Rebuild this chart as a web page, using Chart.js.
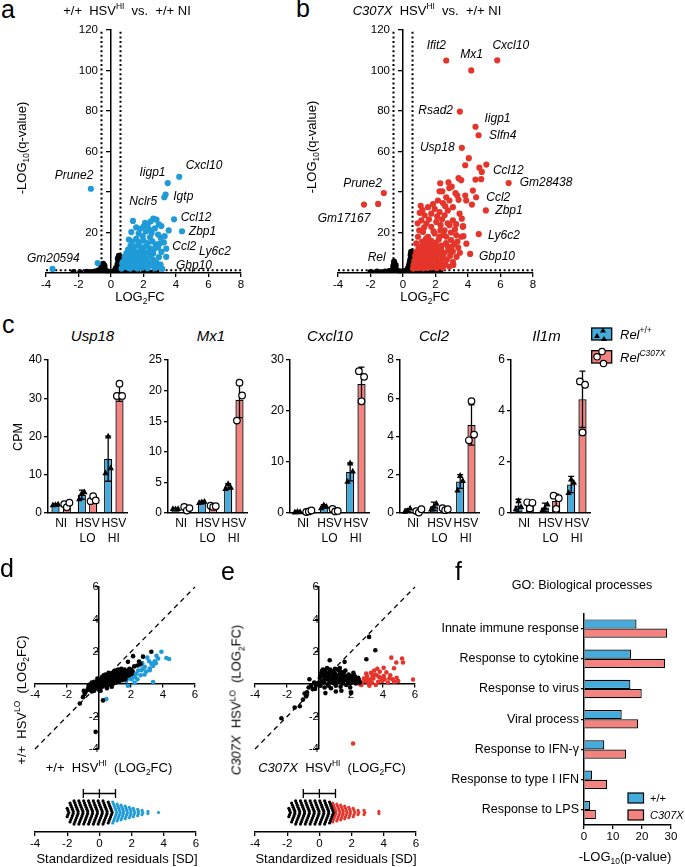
<!DOCTYPE html>
<html><head><meta charset="utf-8">
<script src="https://cdn.jsdelivr.net/npm/chart.js@4.4.1/dist/chart.umd.min.js"></script>
<style>
html,body{margin:0;padding:0;background:#fff;}
#root{position:relative;width:685px;height:867px;overflow:hidden;font-family:"Liberation Sans",Arial,sans-serif;color:#000;}
canvas{position:absolute;}
.t{position:absolute;white-space:nowrap;transform:translate(-50%,-50%);line-height:1;}
.lft{transform:translate(0,-50%);}
.rot{transform:translate(-50%,-50%) rotate(-90deg);}
.i{font-style:italic;}
.L{position:absolute;font-size:25px;line-height:1;}
sup,sub{font-size:65%;line-height:0;}
</style></head><body><div id="root"></div>
<script>
// ---------------- DATA ----------------
// Panel a: +/+ HSV-HI vs +/+ NI  [log2FC, -log10 q]
const aBlue = [[4.2,47.5],[3.49,44.4],[3.36,38.7],[3.28,37.4],[3.88,26.5],[4.37,20.6],[3.4,12.0],[3.4,8.0],[3.15,2.0],[-1.24,41.6],[-3.6,2.0],[-0.82,4.9],
[1.35,25.7],[2.1,24.8],[2.25,23.6],[2.6,26.8],[2.8,26.3],[2.45,25.5],[1.55,22.5],[1.8,21.8],[2.0,22.9],[2.35,21.5],[2.7,22.0],[2.95,24.0],[3.1,23.2],[2.15,20.5],[2.5,19.8],[2.9,19.0],[1.7,19.5],[1.25,20.2],[3.05,17.5],[2.4,17.6],[1.95,18.2],[3.3,18.2],[3.55,21.0],
[1.1,16.5],[1.3,15.5],[1.55,16.8],[1.75,15.2],[2.0,16.0],[2.25,14.8],[2.55,15.6],[2.75,14.2],[3.0,14.6],[3.25,15.1],[1.2,13.4],[1.45,12.8],[1.65,13.9],[1.9,12.5],[2.15,13.2],[2.4,12.2],[2.65,11.8],[2.9,12.6],[1.05,11.5],[1.3,10.8],[1.55,10.2],[1.8,11.0],[2.05,10.5],[2.3,10.0],[2.6,9.6],[3.1,10.4],[0.95,9.8],[1.15,9.2],
[0.7,4.5],[0.75,3.0],[0.8,6.0],[0.85,8.2],[0.9,5.0],[0.95,3.5],[1.0,7.2],[1.05,2.6],[1.1,5.8],[1.15,8.5],[1.2,4.2],[1.25,6.8],[1.3,3.0],[1.35,9.0],[1.4,5.2],[1.45,7.5],[1.5,2.8],[1.55,8.6],[1.6,4.8],[1.65,6.5],[1.7,3.6],[1.75,9.2],[1.8,5.6],[1.85,7.8],[1.9,2.6],[1.95,4.4],[2.0,8.9],[2.05,6.2],[2.1,3.2],[2.2,7.0],[2.3,5.0],[2.4,8.2],[2.5,3.8],[2.6,6.5],[2.7,2.4],[2.8,5.2],[2.95,7.9],[3.05,4.2],[0.65,2.2],[0.72,5.3],[0.88,3.2],[1.02,4.0],[1.18,2.2],[1.33,4.6],[1.48,3.8],[1.62,2.2],[2.25,2.3],[2.85,3.0]];
const aBlack = [[-2.3,0.5],[-1.9,0.4],[-1.5,0.6],[-1.25,0.5],[-1.0,0.8],[-0.9,0.4],[1.2,0.4],[1.6,0.5],[2.0,0.6],[2.4,0.3],[2.8,0.8],[2.2,0.4],[1.0,0.5],[0.8,0.3],
[-0.6,1],[-0.55,2],[-0.5,3],[-0.45,4],[-0.5,1.5],[-0.4,2.5],[-0.35,1.2],[-0.65,0.6],[-0.55,3.5],[-0.45,0.8],[-0.7,0.4],[-0.3,0.6],[-0.6,2.8],[-0.4,3.6],[-0.48,4.6],
[0.35,1],[0.4,2],[0.45,3],[0.5,4],[0.5,5],[0.45,6],[0.5,7],[0.55,8],[0.52,6.5],[0.4,4.5],[0.55,3],[0.3,2.5],[0.25,1.5],[0.6,2],[0.58,5.5],[0.48,8.5],[0.42,7.2],
[-0.2,0.3],[0,0.2],[0.15,0.5],[-0.1,0.6],[0.1,0.3],[0.2,0.8],[-0.25,0.9],[0.7,0.8],[0.9,1.0],[1.1,1.2],[1.3,0.9],[1.5,1.0],[0.6,1.2],[0.75,1.5],[-0.8,1.2],[-0.75,0.8]];
// Panel b: C307X HSV-HI vs +/+ NI
const bRed = [[2.66,104.9],[5.8,105],[4.2,100],[3.5,79.7],[4.46,72.2],[4.65,68],[3.62,61.8],[6.5,44.4],[5.13,53.5],[5.1,30.9],[4.5,37.4],[4.66,19.2],[4.13,9.4],[3.07,5.5],[-1.18,39.5],[-2.4,33.8],[-1.53,34.1],
[4.05,56.7],[3.83,53.2],[4.7,52],[4.85,49.9],[4.81,46.3],[4.46,46.1],[3.42,46.8],[3.58,45.8],[2.29,44.3],[2.8,44.7],[3.0,42.6],[2.85,41.9],[2.25,40.3],[2.42,40.3],[3.23,39.4],[3.34,38.2],[3.42,36.1],[3.83,38.2],[3.89,35.8],[4.3,40.7],[4.24,33.8],[3.7,23.1],[3.72,18.2],[2.86,35.8],[2.66,37.4],[2.46,34.5],[2.15,35.8],[3.07,32.5],[2.76,30.9],[2.56,28.5],[2.25,30.1],[1.95,31.7],[1.54,32.5],[1.09,33.2],[1.03,29.7],[1.33,28.5],[1.74,29.3],[3.48,29.3],[3.62,26.8],[3.27,24.1],[3.07,26.0],[2.86,23.6],[3.68,22.8],[2.56,21.1],[2.31,23.6],[2.05,25.2],[1.74,22.8],[1.44,24.4],[1.13,26.0],[1.95,19.5],[2.25,17.9],[2.66,17.9],[2.96,16.3],[3.27,18.7],[3.58,17.9],[1.54,17.9],[1.23,20.3],[0.92,17.9],[0.82,14.6],[1.13,13.0],[1.44,14.6],[1.74,12.2],[2.05,13.8],[2.35,11.4],[2.76,13.0],[3.07,10.6],[3.17,14.4],[3.4,12.5],[2.9,8.5],[3.3,8.0],[2.5,7.5],
[0.62,2.2],[0.65,4.0],[0.7,6.0],[0.72,2.8],[0.75,8.5],[0.78,5.0],[0.8,3.2],[0.82,10.5],[0.85,6.8],[0.88,2.4],[0.9,4.6],[0.92,8.0],[0.95,12.0],[0.98,3.5],[1.0,6.0],[1.02,9.5],[1.05,2.6],[1.08,5.2],[1.1,7.5],[1.12,11.0],[1.15,3.8],[1.18,15.5],[1.2,6.5],[1.22,9.0],[1.25,2.3],[1.28,4.8],[1.3,12.5],[1.32,7.8],[1.35,10.2],[1.38,3.2],[1.4,6.0],[1.42,17.0],[1.45,8.8],[1.48,4.2],[1.5,11.5],[1.52,2.5],[1.55,6.8],[1.58,9.5],[1.6,14.0],[1.62,3.6],[1.65,5.5],[1.68,8.0],[1.7,10.5],[1.72,16.0],[1.75,2.8],[1.78,7.0],[1.8,4.5],[1.82,12.8],[1.85,9.2],[1.88,20.5],[1.9,3.0],[1.92,6.2],[1.95,15.0],[1.98,10.8],[2.0,4.8],[2.05,8.2],[2.08,2.4],[2.1,11.8],[2.15,6.0],[2.2,16.5],[2.22,3.8],[2.25,9.0],[2.3,21.0],[2.32,5.0],[2.38,13.5],[2.42,7.0],[2.45,2.6],[2.5,18.8],[2.55,10.0],[2.6,4.2],[2.65,14.8],[2.7,6.5],[2.75,24.5],[2.8,11.2],[2.85,3.2],[2.95,20.0],[3.0,13.0],[3.1,4.0],[3.2,21.5],[3.35,15.5],[3.5,10.0],[3.9,14.5],[1.6,26.5],[1.3,22.5],[1.0,21.0],[0.9,24.5],[2.1,28.0],[2.4,26.5],[1.85,34.0],[2.6,33.0],[1.2,31.0]];
const bBlack = [[-2.0,0.5],[-1.9,0.3],[-1.6,0.8],[-1.3,0.4],[-1.1,0.7],[-0.95,0.3],[-0.85,1.0],[1.0,0.5],[1.3,0.8],[1.6,0.4],[1.9,0.6],[2.1,0.3],[2.3,0.7],[0.8,1.0],[1.2,0.3],[1.5,1.1],[1.8,0.9],[0.7,0.5],[-0.75,0.5],
[-0.55,5.7],[-0.55,4.5],[-0.6,3.5],[-0.5,3.0],[-0.58,2.2],[-0.45,2.5],[-0.65,1.5],[-0.5,1.2],[-0.4,1.0],[-0.62,0.8],[-0.45,4.0],[-0.35,0.6],[-0.7,0.8],
[0.5,10.5],[0.52,9.5],[0.48,8.5],[0.5,7.5],[0.45,6.8],[0.55,6.0],[0.42,5.5],[0.5,5.0],[0.38,4.2],[0.55,4.0],[0.45,3.5],[0.35,3.0],[0.58,2.8],[0.3,2.2],[0.5,2.0],[0.25,1.5],[0.4,1.2],[0.6,1.5],[0.2,0.8],[0.15,0.5],[0.55,7.2],[0.47,9.0],
[-0.25,0.6],[-0.1,0.3],[0,0.2],[0.1,0.6],[-0.2,0.9],[0.05,1.0]];
const volcanoFC = 0.585;   // |log2FC| threshold
const volcanoQ = 1.3;      // -log10(0.05)
const volcanoYTicks = [20,60,80,100,120];   // labelled y ticks (40 hidden behind gene label)

// Panel c: CPM bar charts
const cGenes = ['Usp18','Mx1','Cxcl10','Ccl2','Il1m'];
const cCategories = ['NI',['HSV','LO'],['HSV','HI']];
const cMax = [40,25,30,8,6];
const cStep = [10,5,10,2,2];
const cMeanWT  = [[2.2,4.8,14.2],[0.68,1.8,4.33],[0.26,1.3,8.05],[0.13,0.35,1.65],[0.29,0.22,1.12]];
const cMeanMut = [[1.9,3.4,31.5],[0.7,1.1,18.5],[0.32,0.5,25.3],[0.1,0.2,4.6],[0.3,0.47,4.46]];
const cSdWT  = [[0.2,1.2,5.9],[0.1,0.15,0.45],[0.1,0.35,1.75],[0.08,0.22,0.36],[0.25,0.17,0.32]];
const cSdMut = [[0.6,0.9,2.3],[0.3,0.15,2.9],[0.15,0.3,3.3],[0.1,0.08,1.05],[0.13,0.27,1.1]];
const cPtsWT  = [[[2.1,2.2,2.3],[3.7,5.2,5.5],[10.5,20.1,11.8]],[[0.7,0.65,0.7],[1.7,1.8,1.9],[4.0,4.8,4.2]],[[0.2,0.3,0.25],[1.0,1.6,1.3],[6.2,9.8,8.2]],[[0.08,0.12,0.25],[0.2,0.35,0.5],[1.2,1.96,1.7]],[[0.16,0.48,0.25],[0.1,0.2,0.35],[0.8,1.33,1.2]]];
const cPtsMut = [[[2.3,1.5,2.7],[3.1,4.4,3.3],[30.6,33.8,30.6]],[[1.0,0.4,0.8],[1.2,1.0,1.1],[15.1,21.3,19.2]],[[0.2,0.3,0.5],[0.8,0.3,0.4],[27.8,21.9,26.7]],[[0.1,0.02,0.2],[0.25,0.15,0.2],[3.8,5.85,4.1]],[[0.42,0.18,0.4],[0.68,0.16,0.58],[5.16,3.16,5.03]]];

// Panel d: +/+ HSV-HI (x) vs +/+ HSV-LO (y) log2FC
const dBlue = [[3.9,2.0],[4.21,1.62],[4.38,1.56],[3.59,1.75],[3.69,1.58],[3.48,1.42],[3.27,1.27],[3.02,1.64],[3.13,1.42],[3.38,1.13],[3.17,0.97],[2.86,1.07],[2.54,1.17],[2.65,0.86],[2.34,0.66],[2.13,0.56],[1.92,0.35],[2.23,0.08],[1.81,-0.1],[3.38,0.14],[0.46,-0.92],[3.17,0.86],[2.95,0.78],[2.75,0.95],[2.45,0.85],[2.25,0.45],[2.05,0.3],[2.6,0.55],[3.55,1.3],[2.7,1.3],[1.95,0.55],[2.4,0.3],[1.7,0.2],[2.85,0.6]];
const dBlack = [[3.27,2.0],[2.13,1.73],[1.81,1.38],[2.75,1.7],[0.25,-1.0],[-0.21,-2.94],[-1.2,-1.19],[-0.83,-0.47],[2.5,1.4],[2.2,1.1],[1.9,0.95],[2.4,1.15],[2.6,1.25],[1.6,0.9],[1.4,0.75],
[-0.7,-0.3],[-0.65,-0.1],[-0.6,-0.35],[-0.55,0.0],[-0.5,-0.2],[-0.45,0.1],[-0.4,-0.3],[-0.35,-0.05],[-0.3,0.15],[-0.25,-0.2],[-0.2,0.05],[-0.15,-0.25],[-0.1,0.2],[-0.05,-0.1],[0,0.1],[0.05,-0.2],[0.1,0.3],[0.15,0.0],[0.2,-0.15],[0.25,0.25],[0.3,0.05],[0.35,0.4],[0.4,-0.1],[0.45,0.2],[0.5,0.45],[0.55,0.05],[0.6,0.3],[0.65,-0.05],[0.7,0.5],[0.75,0.2],[0.8,0.35],[0.85,0.0],[0.9,0.6],[0.95,0.25],[1.0,0.45],[1.05,0.1],[1.1,0.65],[1.15,0.3],[1.2,0.5],[1.25,0.15],[1.3,0.7],[1.35,0.4],[1.4,0.55],[1.45,0.25],[1.5,0.75],[1.55,0.45],[1.6,0.6],[1.65,0.3],[1.7,0.8],[1.75,0.5],[1.8,0.65],[1.85,0.85],[1.9,0.55],[1.95,0.75],[2.0,0.9],[2.05,0.65],[2.1,0.8],
[-0.3,-0.4],[0.0,-0.35],[0.2,0.45],[-0.1,0.35],[0.1,-0.4],[0.3,0.55],[0.5,-0.25],[0.4,0.6],[0.6,0.7],[0.7,0.1],[0.8,-0.15],[0.55,0.55],[0.95,0.8],[1.05,0.85],[1.2,0.9],[0.15,0.15],[-0.45,-0.45],[0.65,0.4],[0.85,0.55],[1.0,0.2],[1.3,0.25],[0.35,0.2],[0.25,-0.05],[-0.05,0.05],[0.45,0.35],[0.75,0.65],[1.1,0.35],[1.6,0.45],[1.4,0.95],[-0.9,-0.6],[-1.0,-0.8],[-0.95,-0.4]];
// Panel e: C307X HSV-HI (x) vs C307X HSV-LO (y)
const eRed = [[4.52,1.64],[4.83,1.34],[5.19,1.59],[5.25,1.34],[4.69,0.98],[5.88,0.29],[4.04,1.01],[3.8,0.77],[4.21,0.73],[2.13,-3.66],
[3.6,0.55],[3.4,0.35],[3.2,0.3],[3.85,0.4],[4.05,0.5],[4.4,0.35],[4.6,0.3],[4.85,0.4],[4.7,0.15],[4.3,0.1],[3.95,0.2],[3.7,0.15],[3.5,0.6],[3.3,0.1],[3.1,0.05],[2.9,0.2],[2.7,0.1],[2.55,0.0],[2.8,0.35],[3.0,0.5],[3.25,0.7],[3.45,0.85],[3.65,0.95],[3.15,-0.1],[3.55,-0.05],[2.65,-0.05],[4.45,0.55],[4.1,0.3],[3.75,0.45],[3.35,0.5],[2.95,0.65],[4.95,0.2],[2.45,0.15],[3.05,0.25]];
const eBlack = [[3.13,2.92],[3.52,2.1],[2.96,1.54],[1.6,1.38],[0.67,1.48],[1.3,1.0],[-2.35,-2.1],[-1.52,-1.44],[-1.2,-1.36],[-0.9,-0.57],[-0.75,-0.5],[-0.65,-0.2],[-0.5,-0.1],[-0.4,-0.3],[-0.6,0.31],[-0.8,-0.75],[-1.0,-0.95],[1.05,-0.45],[2.0,-0.55],[1.4,-0.4],[0.4,-0.55],
[0,0.1],[0.05,0.4],[0.1,-0.1],[0.15,0.7],[0.2,0.2],[0.25,0.9],[0.3,0.5],[0.35,-0.2],[0.4,0.8],[0.45,0.3],[0.5,1.0],[0.55,0.0],[0.6,0.6],[0.65,0.2],[0.7,0.9],[0.75,-0.25],[0.8,0.5],[0.85,0.1],[0.9,0.8],[0.95,0.35],[1.0,0.65],[1.05,-0.1],[1.1,0.45],[1.15,0.9],[1.2,0.15],[1.25,0.6],[1.3,0.3],[1.35,-0.15],[1.4,0.75],[1.45,0.4],[1.5,0.05],[1.55,0.55],[1.6,0.25],[1.65,0.85],[1.7,-0.05],[1.75,0.45],[1.8,0.15],[1.85,0.6],[1.9,0.3],[1.95,-0.2],[2.0,0.5],[2.05,0.1],[2.1,0.35],[2.15,0.7],[2.2,0.2],[2.25,0.45],[2.3,0.05],[2.35,0.3],[2.4,0.15],[2.45,0.4],[2.5,0.25],[2.55,0.1],
[0.1,0.5],[0.2,0.85],[0.3,0.1],[0.45,0.65],[0.55,0.4],[0.65,0.75],[0.75,0.35],[0.85,0.6],[0.95,0.05],[1.0,0.95],[1.1,0.2],[1.2,0.5],[1.3,0.8],[1.45,0.15],[1.55,0.7],[1.65,0.35],[1.8,0.5],[1.9,0.05],[2.0,0.25],[2.2,0.55],[0.35,0.35],[0.6,-0.1],[0.8,0.2],[0.9,0.5],[1.05,0.3],[1.35,0.5],[1.6,0.45],[0.25,0.6],[0.05,-0.05],[-0.1,0.05],[-0.2,-0.1],[-0.3,0.1],[-0.25,-0.3]];
// Standardized residuals: column values and number of dots per column
const dResBlackVal = [-1.9,-1.6,-1.3,-1.0,-0.7,-0.4,-0.1,0.2,0.5,0.8];
const dResBlackCnt = [5,10,12,12,12,12,12,12,12,11];
const dResBlueVal  = [1.08,1.3,1.52,1.75,1.98,2.2,2.45,2.7,3.04,3.67];
const dResBlueCnt  = [11,9,8,7,6,5,4,3,2,1];
const eResBlackVal = [-1.8,-1.5,-1.2,-0.9,-0.6,-0.3,0.0,0.3,0.6,0.88];
const eResBlackCnt = [5,10,12,12,12,12,12,12,12,11];
const eResRedVal   = [1.05,1.28,1.5,1.72,1.95,2.2,2.45,2.82,3.72];
const eResRedCnt   = [10,9,8,7,6,5,3,3,2];
const resMean = 0, resSD = 1;

// Panel f: GO biological processes, -log10(p)
const fTerms = ['Innate immune response','Response to cytokine','Response to virus','Viral process','Response to IFN-\u03b3','Response to type I IFN','Response to LPS'];
const fWT  = [18.1,16.2,16.0,13.0,7.0,2.8,2.1];
const fMut = [28.7,28.0,19.9,18.7,14.5,8.0,4.1];

// ---------------- STYLE / LAYOUT ----------------
const BLUE_PT='#1f9bd7', RED_PT='#e5352b', BLUE_BAR='#45abdd', RED_BAR='#f4827f';
const FONT="'Liberation Sans', Arial, sans-serif";
Chart.defaults.font.family = FONT;
Chart.defaults.color = '#000';
const root = document.getElementById('root');
function mkCanvas(l,t,w,h){const c=document.createElement('canvas');c.width=w;c.height=h;c.style.left=l+'px';c.style.top=t+'px';c.style.width=w+'px';c.style.height=h+'px';root.appendChild(c);return c;}
function axisStyle(tl){return {grid:{display:true,drawOnChartArea:false,drawTicks:tl>0,tickLength:tl,color:'#000',lineWidth:1.3},border:{display:true,color:'#000',width:1.5}};}
function base(pad){return {responsive:false,maintainAspectRatio:false,animation:false,devicePixelRatio:1,events:[],layout:{padding:pad},plugins:{legend:{display:false},tooltip:{enabled:false}}};}
const xy = p=>({x:p[0],y:p[1]});

// volcano
const volcanoLines = {id:'vl',beforeDatasetsDraw(chart){const {ctx,scales:{x,y}}=chart;ctx.save();ctx.strokeStyle='#000';ctx.lineWidth=2;ctx.setLineDash([2,2.6]);
 [-volcanoFC,volcanoFC].forEach(v=>{const px=x.getPixelForValue(v);ctx.beginPath();ctx.moveTo(px,y.getPixelForValue(0));ctx.lineTo(px,y.getPixelForValue(120));ctx.stroke();});
 const py=y.getPixelForValue(volcanoQ);ctx.beginPath();ctx.moveTo(x.getPixelForValue(-4),py);ctx.lineTo(x.getPixelForValue(8),py);ctx.stroke();ctx.restore();},
 afterDraw(chart){const {ctx,scales:{x,y}}=chart;ctx.save();ctx.fillStyle='#000';ctx.font='11.5px '+FONT;ctx.textAlign='right';ctx.textBaseline='middle';
 const ax=x.getPixelForValue(0);volcanoYTicks.forEach(v=>ctx.fillText(String(v),ax-13,y.getPixelForValue(v)));ctx.restore();}};
function volcano(left, colored, black, color){
 const c=mkCanvas(left,15,227,280);
 new Chart(c,{type:'scatter',data:{datasets:[
   {data:colored.map(xy),backgroundColor:color,pointRadius:3.1,pointBorderWidth:0,borderWidth:0},
   {data:black.map(xy),backgroundColor:'#000',pointRadius:3,pointBorderWidth:0,borderWidth:0}]},
  options:Object.assign(base({left:20,right:12,top:12,bottom:0}),{scales:{
   x:Object.assign({type:'linear',min:-4,max:8,position:'bottom',afterFit:s=>{s.height=22;},ticks:{stepSize:2,font:{size:11.5},padding:1,maxRotation:0}},axisStyle(4)),
   y:Object.assign({type:'linear',min:0,max:120,position:{x:0},ticks:{stepSize:20,font:{size:11.5},padding:8,callback:()=>''}},axisStyle(4))}}),
  plugins:[volcanoLines]});
}
volcano(26,aBlue,aBlack,BLUE_PT);
volcano(318,bRed,bBlack,RED_PT);

// bar charts
const cLeft=[48,168,290,400,511], cRight=[127,247,369,479,590];
function barExtras(i){return {id:'bx'+i,afterDatasetsDraw(chart){const ctx=chart.ctx, ys=chart.scales.y;
 const sets=[{m:cMeanWT[i],sd:cSdWT[i],p:cPtsWT[i],tri:true},{m:cMeanMut[i],sd:cSdMut[i],p:cPtsMut[i],tri:false}];
 ctx.save();
 sets.forEach((s,di)=>{chart.getDatasetMeta(di).data.forEach((bar,j)=>{const x=bar.x;
  const yT=ys.getPixelForValue(s.m[j]+s.sd[j]), yB=ys.getPixelForValue(Math.max(0,s.m[j]-s.sd[j]));
  ctx.strokeStyle='#000';ctx.lineWidth=1.3;ctx.beginPath();ctx.moveTo(x,yT);ctx.lineTo(x,yB);ctx.moveTo(x-3,yT);ctx.lineTo(x+3,yT);ctx.moveTo(x-3,yB);ctx.lineTo(x+3,yB);ctx.stroke();
  const jit=[-2.6,0,2.6];
  s.p[j].forEach((v,k)=>{const px=x+jit[k], py=ys.getPixelForValue(v);ctx.beginPath();
   if(s.tri){ctx.fillStyle='#000';ctx.moveTo(px,py-3.4);ctx.lineTo(px+3.2,py+2.4);ctx.lineTo(px-3.2,py+2.4);ctx.closePath();ctx.fill();}
   else{ctx.fillStyle='#fff';ctx.lineWidth=1.2;ctx.arc(px,py,3.3,0,Math.PI*2);ctx.fill();ctx.stroke();}
  });
 });});
 ctx.restore();}};}
for(let i=0;i<5;i++){
 const l=cLeft[i], r=cRight[i];
 const c=mkCanvas(l-30,350,r-l+36,199);
 new Chart(c,{type:'bar',data:{labels:cCategories,datasets:[
   {data:cMeanWT[i],backgroundColor:BLUE_BAR,borderColor:'#000',borderWidth:1.3},
   {data:cMeanMut[i],backgroundColor:RED_BAR,borderColor:'#000',borderWidth:1.3}]},
  options:Object.assign(base({left:0,right:6,top:10,bottom:0}),{
   datasets:{bar:{categoryPercentage:0.86,barPercentage:0.72}},
   scales:{
    x:{type:'category',afterFit:s=>{s.height=36;},ticks:{font:{size:12,lineHeight:1.25},padding:3,maxRotation:0,autoSkip:false},grid:{display:true,drawOnChartArea:false,drawTicks:false,color:'#000'},border:{display:true,color:'#000',width:1.5}},
    y:Object.assign({min:0,max:cMax[i],afterFit:s=>{s.width=30;},ticks:{stepSize:cStep[i],font:{size:12},padding:2}},axisStyle(4))}}),
  plugins:[barExtras(i)]});
}

// d / e cross scatter
const diag={id:'diag',beforeDatasetsDraw(chart){const {ctx,scales:{x,y}}=chart;ctx.save();ctx.strokeStyle='#000';ctx.lineWidth=1.3;ctx.setLineDash([5,4]);ctx.beginPath();ctx.moveTo(x.getPixelForValue(-4),y.getPixelForValue(-4));ctx.lineTo(x.getPixelForValue(6),y.getPixelForValue(6));ctx.stroke();ctx.restore();}};
function cross(left, black, colored, color){
 const c=mkCanvas(left,577,192,182);
 new Chart(c,{type:'scatter',data:{datasets:[
   {data:black.map(xy),backgroundColor:'#000',pointRadius:2.3,pointBorderWidth:0,borderWidth:0},
   {data:colored.map(xy),backgroundColor:color,pointRadius:2.3,pointBorderWidth:0,borderWidth:0}]},
  options:Object.assign(base({left:16,right:16,top:10,bottom:10}),{scales:{
   x:Object.assign({type:'linear',min:-4,max:6,position:{y:0},ticks:{stepSize:2,font:{size:11.5},padding:1,maxRotation:0,callback:v=>v===0?'':v}},axisStyle(3)),
   y:Object.assign({type:'linear',min:-4,max:6,position:{x:0},ticks:{stepSize:2,font:{size:11.5},padding:1,callback:v=>v===0?'':v}},axisStyle(3))}}),
  plugins:[diag]});
}
cross(19,dBlack,dBlue,BLUE_PT);
cross(239,eBlack,eRed,RED_PT);

// swarms
function swarmPts(vals,cnts){const out=[];vals.forEach((v,i)=>{const n=cnts[i];for(let k=0;k<n;k++){const off=k-(n-1)/2;out.push({x:v-Math.abs(off)*0.05,y:off*2.1});}});return out;}
const sdBar={id:'sdbar',afterDatasetsDraw(chart){const {ctx,scales:{x,y}}=chart;const py=y.getPixelForValue(19);ctx.save();ctx.strokeStyle='#000';ctx.lineWidth=1.3;ctx.beginPath();
 const a=x.getPixelForValue(resMean-resSD),m=x.getPixelForValue(resMean),b=x.getPixelForValue(resMean+resSD);
 ctx.moveTo(a,py);ctx.lineTo(b,py);[a,m,b].forEach(px=>{ctx.moveTo(px,py-4.5);ctx.lineTo(px,py+4.5);});ctx.stroke();ctx.restore();}};
function swarm(left,bv,bc,cv,cc,color){
 const c=mkCanvas(left,779,193,80);
 new Chart(c,{type:'scatter',data:{datasets:[
   {data:swarmPts(bv,bc),backgroundColor:'#000',pointRadius:1.6,pointBorderWidth:0,borderWidth:0},
   {data:swarmPts(cv,cc),backgroundColor:color,pointRadius:1.6,pointBorderWidth:0,borderWidth:0}]},
  options:Object.assign(base({left:16,right:16,top:6,bottom:0}),{scales:{
   x:Object.assign({type:'linear',min:-4,max:6,position:'bottom',afterFit:s=>{s.height=27;},ticks:{stepSize:2,font:{size:11.5},padding:1,maxRotation:0}},axisStyle(4)),
   y:{display:false,min:-19.5,max:27.5}}}),
  plugins:[sdBar]});
}
swarm(19,dResBlackVal,dResBlackCnt,dResBlueVal,dResBlueCnt,BLUE_PT);
swarm(239,eResBlackVal,eResBlackCnt,eResRedVal,eResRedCnt,RED_PT);

// f
(function(){const c=mkCanvas(432,604,247,241);
 new Chart(c,{type:'bar',data:{labels:fTerms,datasets:[
   {data:fWT,backgroundColor:BLUE_BAR,borderColor:'#000',borderWidth:1.2},
   {data:fMut,backgroundColor:RED_BAR,borderColor:'#000',borderWidth:1.2}]},
  options:Object.assign(base({left:0,right:8,top:6,bottom:0}),{indexAxis:'y',
   datasets:{bar:{categoryPercentage:0.61,barPercentage:1.0}},
   scales:{
    y:{type:'category',afterFit:s=>{s.width=152;},ticks:{font:{size:12.5},padding:2,autoSkip:false},grid:{display:true,offset:false,drawOnChartArea:false,tickLength:3,color:'#000',lineWidth:1.3},border:{display:true,color:'#000',width:1.5}},
    x:Object.assign({min:0,max:30,afterFit:s=>{s.height=20;},ticks:{stepSize:10,font:{size:11.5},padding:1,maxRotation:0}},axisStyle(4))}})});
})();

// ---------------- TEXT ----------------
function txt(html,cx,cy,size,cls){const d=document.createElement('div');d.className='t'+(cls?' '+cls:'');d.style.left=cx+'px';d.style.top=cy+'px';d.style.fontSize=size+'px';d.innerHTML=html;root.appendChild(d);}
function letter(ch,l,t){const d=document.createElement('div');d.className='L';d.style.left=l+'px';d.style.top=t+'px';d.textContent=ch;root.appendChild(d);}
letter('a',1,-3);letter('b',296,-4);letter('c',2,312);letter('d',0,556);letter('e',221,559);letter('f',455,559);
txt('+/+&nbsp; HSV<sup>HI</sup>&nbsp; vs.&nbsp; +/+ NI',127,10,13);
txt('<i>C307X</i>&nbsp; HSV<sup>HI</sup>&nbsp; vs.&nbsp; +/+ NI',427,10,13);
txt('-LOG<sub>10</sub>(q-value)',21,148,13,'rot');
txt('-LOG<sub>10</sub>(q-value)',311,147,13,'rot');
txt('LOG<sub>2</sub>FC',140,296,13);
txt('LOG<sub>2</sub>FC',425,296,13);
const aLabels=[['Cxcl10',204,165],['Iigp1',152.5,172],['Nclr5',143.3,201],['Igtp',183.3,196],['Prune2',74,175],['Ccl12',196,217],['Zbp1',202.5,231],['Ccl2',184.3,246],['Ly6c2',215,251],['Gbp10',194,264.5],['Gm20594',53.3,258]];
const bLabels=[['Ifit2',436.3,45],['Mx1',471.5,54],['Cxcl10',510.8,45],['Rsad2',435.7,110],['Iigp1',497.5,118],['Slfn4',502.7,134.7],['Usp18',437.3,146.5],['Ccl12',508.3,170],['Gm28438',546,182],['Ccl2',498.3,196.7],['Zbp1',509,209.5],['Ly6c2',504,234.5],['Gbp10',497,255.7],['Prune2',362.5,182.5],['Gm17167',344,218],['Rel',376.7,256.7]];
aLabels.concat(bLabels).forEach(g=>txt(g[0],g[1],g[2],12,'i'));
const cTitleX=[92.5,211,330,434,546.5];
cGenes.forEach((g,i)=>txt(g,cTitleX[i],335,15,'i'));
txt('CPM',18,437,12.5,'rot');
// legend c
root.insertAdjacentHTML('beforeend','<svg style="position:absolute;left:588px;top:325px" width="32" height="44"><rect x="3.7" y="3" width="20" height="12" fill="'+BLUE_BAR+'" stroke="#000" stroke-width="1.3"/><polygon points="9,8 12,13 6,13" fill="#000"/><polygon points="15,2.5 18,7.5 12,7.5" fill="#000"/><polygon points="16,11 19,16 13,16" fill="#000"/><rect x="3.7" y="25.7" width="20" height="12.3" fill="'+RED_BAR+'" stroke="#000" stroke-width="1.3"/><circle cx="14" cy="26.5" r="3.2" fill="#fff" stroke="#000" stroke-width="1.2"/><circle cx="9" cy="31.8" r="3.2" fill="#fff" stroke="#000" stroke-width="1.2"/><circle cx="15.5" cy="38.5" r="3.2" fill="#fff" stroke="#000" stroke-width="1.2"/></svg>');
txt('<i>Rel</i><sup>+/+</sup>',620,334,13,'lft');
txt('<i>Rel</i><sup><i>C307X</i></sup>',620,357,13,'lft');
// d, e titles
txt('+/+&nbsp; HSV<sup>LO</sup>&nbsp; (LOG<sub>2</sub>FC)',21,700,13,'rot');
txt('+/+&nbsp; HSV<sup>HI</sup>&nbsp; (LOG<sub>2</sub>FC)',109,767,13);
txt('<i>C307X</i>&nbsp; HSV<sup>LO</sup>&nbsp; (LOG<sub>2</sub>FC)',236,700,13,'rot');
txt('<i>C307X</i>&nbsp; HSV<sup>HI</sup>&nbsp; (LOG<sub>2</sub>FC)',332,767,13);
txt('Standardized residuals [SD]',117,858,13);
txt('Standardized residuals [SD]',336,858,13);
// f
txt('GO: Biological processes',582,585,12.5);
root.insertAdjacentHTML('beforeend','<svg style="position:absolute;left:626px;top:791px" width="20" height="32"><rect x="2" y="2" width="15.5" height="10" fill="'+BLUE_BAR+'" stroke="#000" stroke-width="1.2"/><rect x="2" y="19" width="15.5" height="10" fill="'+RED_BAR+'" stroke="#000" stroke-width="1.2"/></svg>');
txt('+/+',650,798,11,'lft');
txt('<i>C307X</i>',650,815,11,'lft');
txt('-LOG<sub>10</sub>(p-value)',625,856,13);
</script></body></html>
